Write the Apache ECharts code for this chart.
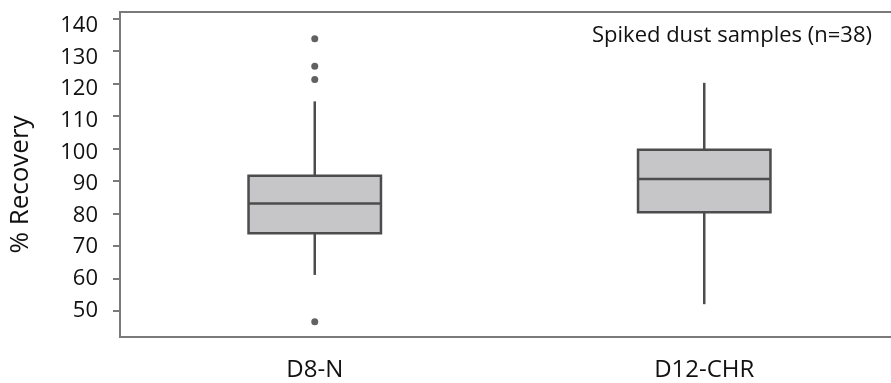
<!DOCTYPE html>
<html>
<head>
<meta charset="utf-8">
<script src="https://cdn.jsdelivr.net/npm/echarts@6/dist/echarts.min.js"></script>
<style>html,body{margin:0;padding:0;background:#fff;}#c{width:891px;height:383px;}</style>
</head>
<body>
<div id="c"></div>
<script>
const categories = ['D8-N', 'D12-CHR'];
// [low whisker, Q1, median, Q3, high whisker]
const boxStats = [
  [61.1, 73.9, 83.1, 91.6, 114.5],
  [52.1, 80.4, 90.6, 99.6, 120.2]
];
// outliers: [category index, value]
const outliers = [
  [0, 133.8],
  [0, 125.3],
  [0, 121.2],
  [0, 46.7]
];
const yTicks = [50, 60, 70, 80, 90, 100, 110, 120, 130, 140];
const annotation = 'Spiked dust samples (n=38)';
const yName = '% Recovery';

const FONT = 'Open Sans';
const chart = echarts.init(document.getElementById('c'), null, {renderer: 'canvas'});
const boxData = boxStats.map((s, i) => [i].concat(s));

chart.setOption({
  animation: false,
  backgroundColor: '#ffffff',
  title: {
    text: annotation,
    right: 14,
    top: 20,
    textStyle: {fontFamily: FONT, fontSize: 22, fontWeight: 'normal', color: '#111'}
  },
  grid: {
    left: 120, top: 12, height: 325, width: 779,
    outerBoundsMode: 'none',
    containLabel: false,
    show: true, borderColor: '#7a7a7a', borderWidth: 2, backgroundColor: 'transparent'
  },
  xAxis: {
    type: 'category',
    data: categories,
    boundaryGap: true,
    axisLine: {lineStyle: {color: '#7a7a7a', width: 2}},
    axisTick: {alignWithLabel: true, length: 4, lineStyle: {color: '#7a7a7a', width: 2}},
    axisLabel: {fontFamily: FONT, fontSize: 24, color: '#111', margin: 21},
    splitLine: {show: false}
  },
  yAxis: [
    {
      type: 'value',
      min: 42, max: 142,
      name: yName,
      nameLocation: 'middle',
      nameRotate: 90,
      nameGap: 86,
      nameTextStyle: {fontFamily: FONT, fontSize: 26, color: '#111', padding: [0, 20, 0, 0]},
      axisLine: {show: true, lineStyle: {color: '#7a7a7a', width: 2}},
      axisTick: {show: true, length: 7, customValues: yTicks, lineStyle: {color: '#7a7a7a', width: 2}},
      axisLabel: {show: false},
      splitLine: {show: false}
    },
    {
      // label-only axis: the source figure's tick labels sit on a slightly compressed scale
      type: 'value',
      position: 'left',
      min: 41.6, max: 144.4,
      axisLine: {show: false},
      axisTick: {show: false},
      axisLabel: {fontFamily: FONT, fontSize: 22, color: '#111', margin: 22, customValues: yTicks},
      splitLine: {show: false}
    }
  ],
  series: [
    {
      type: 'custom',
      data: boxData,
      yAxisIndex: 0,
      encode: {x: 0, y: [1, 2, 3, 4, 5]},
      renderItem: function (params, api) {
        const xi = api.value(0);
        const pLow = api.coord([xi, api.value(1)]);
        const pQ1 = api.coord([xi, api.value(2)]);
        const pMed = api.coord([xi, api.value(3)]);
        const pQ3 = api.coord([xi, api.value(4)]);
        const pHigh = api.coord([xi, api.value(5)]);
        const bw = api.size([1, 0])[0] * 0.34;
        const cx = pMed[0];
        const stroke = '#4c4c4c';
        return {
          type: 'group',
          children: [
            {type: 'line', shape: {x1: cx, y1: pHigh[1], x2: cx, y2: pQ3[1]}, style: {stroke: stroke, lineWidth: 2.5}},
            {type: 'line', shape: {x1: cx, y1: pQ1[1], x2: cx, y2: pLow[1]}, style: {stroke: stroke, lineWidth: 2.5}},
            {type: 'rect', shape: {x: cx - bw / 2, y: pQ3[1], width: bw, height: pQ1[1] - pQ3[1]}, style: {fill: '#c6c6c8', stroke: stroke, lineWidth: 2.5}},
            {type: 'line', shape: {x1: cx - bw / 2, y1: pMed[1], x2: cx + bw / 2, y2: pMed[1]}, style: {stroke: stroke, lineWidth: 2.5}}
          ]
        };
      }
    },
    {
      type: 'scatter',
      data: outliers,
      yAxisIndex: 0,
      symbol: 'circle',
      symbolSize: 7,
      itemStyle: {color: '#3a3a3a'}
    }
  ]
});
</script>
</body>
</html>
